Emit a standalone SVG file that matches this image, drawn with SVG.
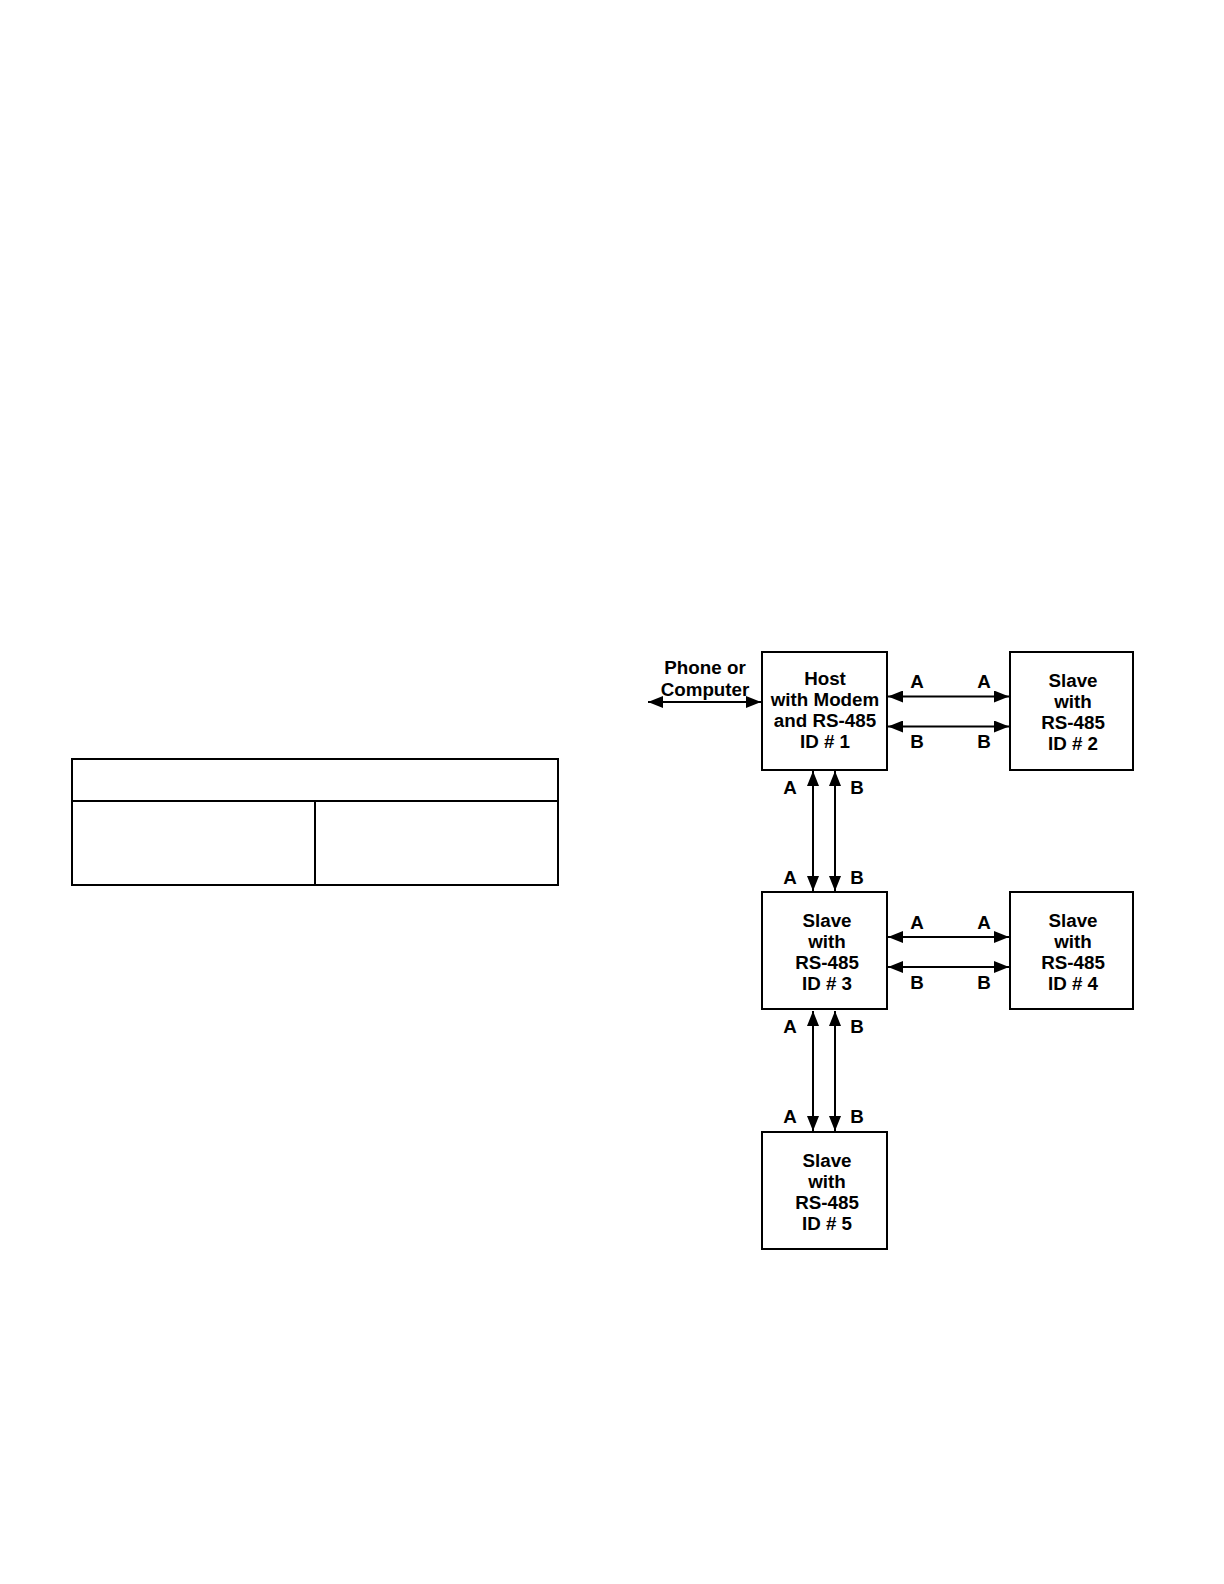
<svg xmlns="http://www.w3.org/2000/svg" width="1224" height="1584" viewBox="0 0 1224 1584">
<style>
.box{fill:#fff;stroke:#000;stroke-width:2}
.t{font-family:"Liberation Sans",Arial,sans-serif;font-weight:bold;font-size:18.8px;fill:#000;text-anchor:middle}
.c{stroke:#000;stroke-width:2;fill:none;marker-start:url(#ah);marker-end:url(#ah)}
.tbl{fill:none;stroke:#000;stroke-width:2}
</style>
<defs>
<marker id="ah" markerUnits="userSpaceOnUse" markerWidth="16" markerHeight="12" viewBox="0 0 16 12" refX="15" refY="6" orient="auto-start-reverse">
<path d="M0,0 L15,6 L0,12 Z" fill="#000"/>
</marker>
</defs>
<rect width="1224" height="1584" fill="#fff"/>
<g id="table">
<rect class="tbl" x="72" y="759" width="486" height="126"/>
<line class="tbl" x1="72" y1="801" x2="558" y2="801"/>
<line class="tbl" x1="315" y1="801" x2="315" y2="885"/>
</g>
<g id="connectors">
<line class="c" x1="648" y1="702" x2="761" y2="702"/>
<line class="c" x1="888" y1="696.5" x2="1009" y2="696.5"/>
<line class="c" x1="888" y1="726.5" x2="1009" y2="726.5"/>
<line class="c" x1="888" y1="937" x2="1009" y2="937"/>
<line class="c" x1="888" y1="967" x2="1009" y2="967"/>
<line class="c" x1="813" y1="771" x2="813" y2="891"/>
<line class="c" x1="835" y1="771" x2="835" y2="891"/>
<line class="c" x1="813" y1="1011" x2="813" y2="1131"/>
<line class="c" x1="835" y1="1011" x2="835" y2="1131"/>
<text class="t" x="917" y="688">A</text>
<text class="t" x="984" y="688">A</text>
<text class="t" x="917" y="748">B</text>
<text class="t" x="984" y="748">B</text>
<text class="t" x="917" y="929">A</text>
<text class="t" x="984" y="929">A</text>
<text class="t" x="917" y="989">B</text>
<text class="t" x="984" y="989">B</text>
<text class="t" x="790" y="794">A</text>
<text class="t" x="857" y="794">B</text>
<text class="t" x="790" y="884">A</text>
<text class="t" x="857" y="884">B</text>
<text class="t" x="790" y="1033">A</text>
<text class="t" x="857" y="1033">B</text>
<text class="t" x="790" y="1123">A</text>
<text class="t" x="857" y="1123">B</text>
</g>
<g id="phone">
<text class="t" x="705" y="674">Phone or</text>
<text class="t" x="705" y="696">Computer</text>
</g>
<g id="host">
<rect class="box" x="762" y="652" width="125" height="118"/>
<text class="t" x="825" y="684.5">Host</text>
<text class="t" x="825" y="705.5">with Modem</text>
<text class="t" x="825" y="726.5">and RS-485</text>
<text class="t" x="825" y="747.5">ID # 1</text>
</g>
<g id="slave2">
<rect class="box" x="1010" y="652" width="123" height="118"/>
<text class="t" x="1073" y="686.5">Slave</text>
<text class="t" x="1073" y="707.5">with</text>
<text class="t" x="1073" y="728.5">RS-485</text>
<text class="t" x="1073" y="749.5">ID # 2</text>
</g>
<g id="slave3">
<rect class="box" x="762" y="892" width="125" height="117"/>
<text class="t" x="827" y="926.5">Slave</text>
<text class="t" x="827" y="947.5">with</text>
<text class="t" x="827" y="968.5">RS-485</text>
<text class="t" x="827" y="989.5">ID # 3</text>
</g>
<g id="slave4">
<rect class="box" x="1010" y="892" width="123" height="117"/>
<text class="t" x="1073" y="926.5">Slave</text>
<text class="t" x="1073" y="947.5">with</text>
<text class="t" x="1073" y="968.5">RS-485</text>
<text class="t" x="1073" y="989.5">ID # 4</text>
</g>
<g id="slave5">
<rect class="box" x="762" y="1132" width="125" height="117"/>
<text class="t" x="827" y="1167">Slave</text>
<text class="t" x="827" y="1188">with</text>
<text class="t" x="827" y="1209">RS-485</text>
<text class="t" x="827" y="1230">ID # 5</text>
</g>
</svg>
